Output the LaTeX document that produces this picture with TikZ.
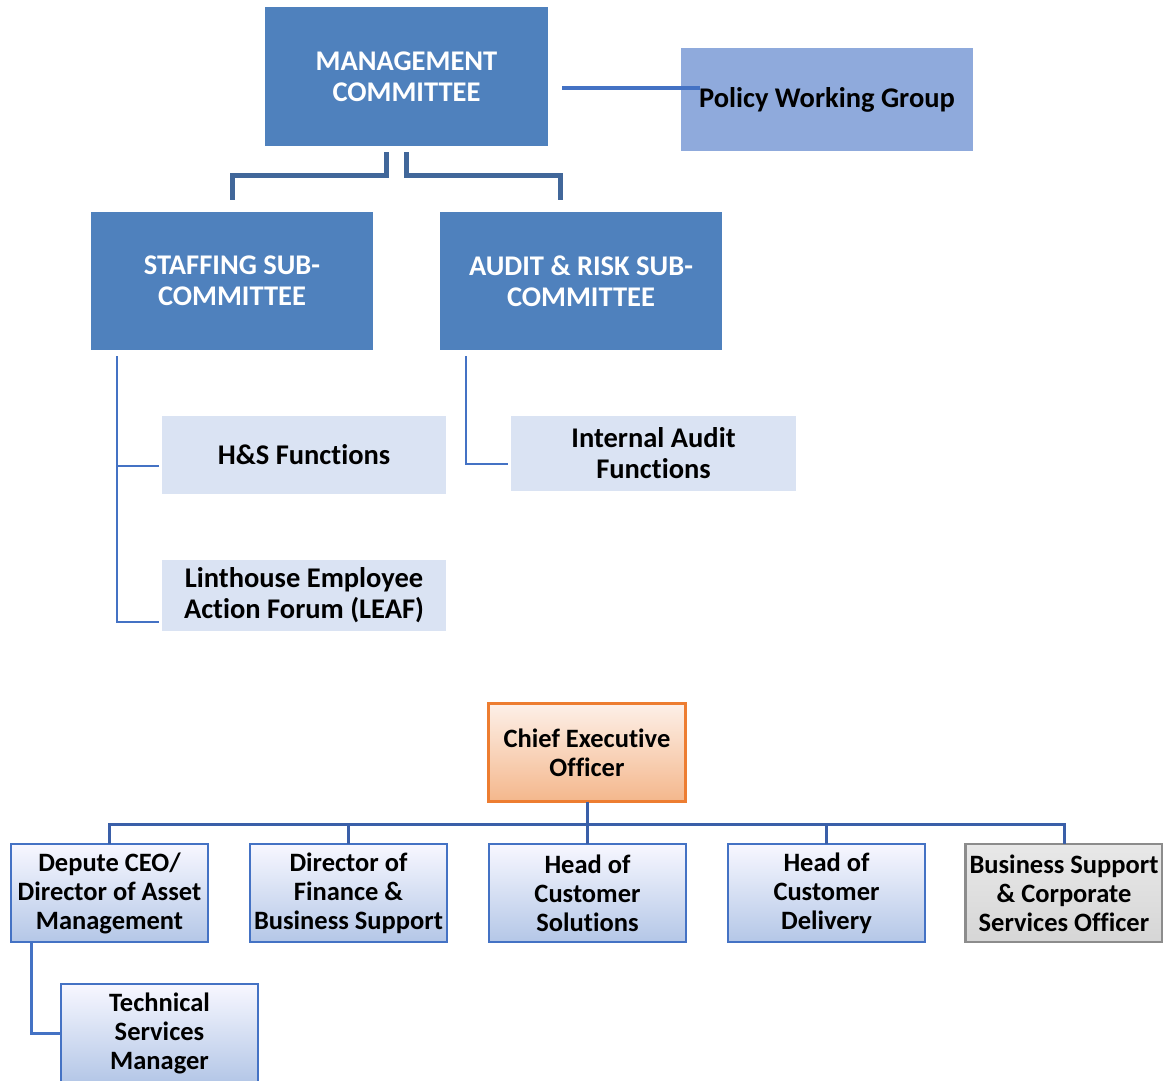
\documentclass[tikz,border=0pt]{standalone}
\usepackage{fontspec}
\setmainfont{Carlito}[Ligatures=NoCommon]
\usetikzlibrary{calc}
\definecolor{mcblue}{HTML}{4F81BD}
\definecolor{pwgblue}{HTML}{8FAADC}
\definecolor{brk}{HTML}{41679A}
\definecolor{thin}{HTML}{4472C4}
\definecolor{light}{HTML}{DAE3F3}
\definecolor{orgline}{HTML}{3A5FA8}
\definecolor{orangeb}{HTML}{ED7D31}
\begin{document}
\begin{tikzpicture}[x=1pt,y=-1pt,
  every node/.style={inner sep=0pt, outer sep=0pt, align=center, font=\bfseries},
  upfont/.style={font=\bfseries\fontsize{28.5}{31}\selectfont},
  lowfont/.style={font=\bfseries\fontsize{26.5}{29}\selectfont},
  bigbox/.style={fill=mcblue, text=white, upfont},
  lightbox/.style={fill=light, text=black, upfont, minimum width=284},
  orgbox/.style={draw=thin, line width=2.2pt, top color=blue!3!white, bottom color={rgb,255:red,180;green,199;blue,231},
     minimum width=197, minimum height=98, lowfont},
  brkline/.style={draw=brk, line width=5pt},
  thinline/.style={draw=thin, line width=2.5pt},
  orgconn/.style={draw=orgline, line width=3pt}]
\useasboundingbox (0,0) rectangle (1163,1081);

% upper part
\node[bigbox, minimum width=283, minimum height=139] (mc) at (406.5,76.5) {MANAGEMENT\\COMMITTEE};
\node[fill=pwgblue, minimum width=292, minimum height=103, upfont] (pwg) at (827,99.5) {\raisebox{-2pt}{Policy Working Group}};
\node[bigbox, minimum width=282, minimum height=138] (staff) at (232,281) {STAFFING SUB-\\COMMITTEE};
\node[bigbox, minimum width=282, minimum height=138] (audit) at (581,281) {AUDIT \& RISK SUB-\\COMMITTEE};
\node[lightbox, minimum height=78] (hs) at (304,455) {H\&S Functions};
\node[lightbox, minimum height=71] (leaf) at (304,595.5) {Linthouse Employee\\Action Forum (LEAF)};
\node[lightbox, minimum width=285, minimum height=75] (ia) at (653.5,453.5) {Internal Audit\\Functions};

\draw[draw=thin, line width=4pt] ([shift={(14,11.5)}]mc.east) -- ([shift={(19,-11.5)}]pwg.west);
\draw[brkline] ([shift={(-20,6)}]mc.south) -- ++(0,23) -| ([shift={(0,-12)}]staff.north);
\draw[brkline] ([shift={(0,6)}]mc.south) -- ++(0,23) -| ([shift={(-21,-12)}]audit.north);

\draw[thinline] ([shift={(26,6)}]staff.south west) |- ([shift={(-3,26.5)}]leaf.west);
\draw[thinline] ([shift={(-3,11)}]hs.west) -- ++(-43,0);
\draw[thinline] ([shift={(26,6)}]audit.south west) |- ([shift={(-3,10.5)}]ia.west);

% lower org chart
\node[draw=orangeb, line width=2.2pt, top color={rgb,255:red,253;green,240;blue,232}, bottom color={rgb,255:red,244;green,183;blue,140},
  minimum width=197, minimum height=98, lowfont] (ceo) at (587,752.5) {Chief Executive\\Officer};
\node[orgbox] (dep) at (109.5,893) {Depute CEO/\\Director of Asset\\Management};
\node[orgbox] (dir) at (348.5,893) {Director of\\Finance \&\\Business Support};
\node[orgbox] (hcs) at (587.5,893) {Head of\\Customer\\Solutions};
\node[orgbox] (hcd) at (826.5,893) {Head of\\Customer\\Delivery};
\node[orgbox, draw={rgb,255:red,140;green,140;blue,140}, top color={rgb,255:red,232;green,232;blue,232}, bottom color={rgb,255:red,214;green,214;blue,214}] (bso) at (1064,893) {Business Support\\\& Corporate\\Services Officer};
\node[orgbox] (tsm) at (159.5,1033) {Technical\\Services\\Manager};

\coordinate (bar) at (0,824);
\draw[orgconn] (ceo.south) -- (ceo.south |- bar);
\draw[orgconn] (dep.north) -- (dep.north |- bar) -- (bso.north |- bar) -- (bso.north);
\draw[orgconn] (dir.north) -- (dir.north |- bar);
\draw[orgconn] (hcs.north) -- (hcs.north |- bar);
\draw[orgconn] (hcd.north) -- (hcd.north |- bar);
\draw[orgconn, draw=thin] ([xshift=20]dep.south west) |- (tsm.west);
\end{tikzpicture}
\end{document}
